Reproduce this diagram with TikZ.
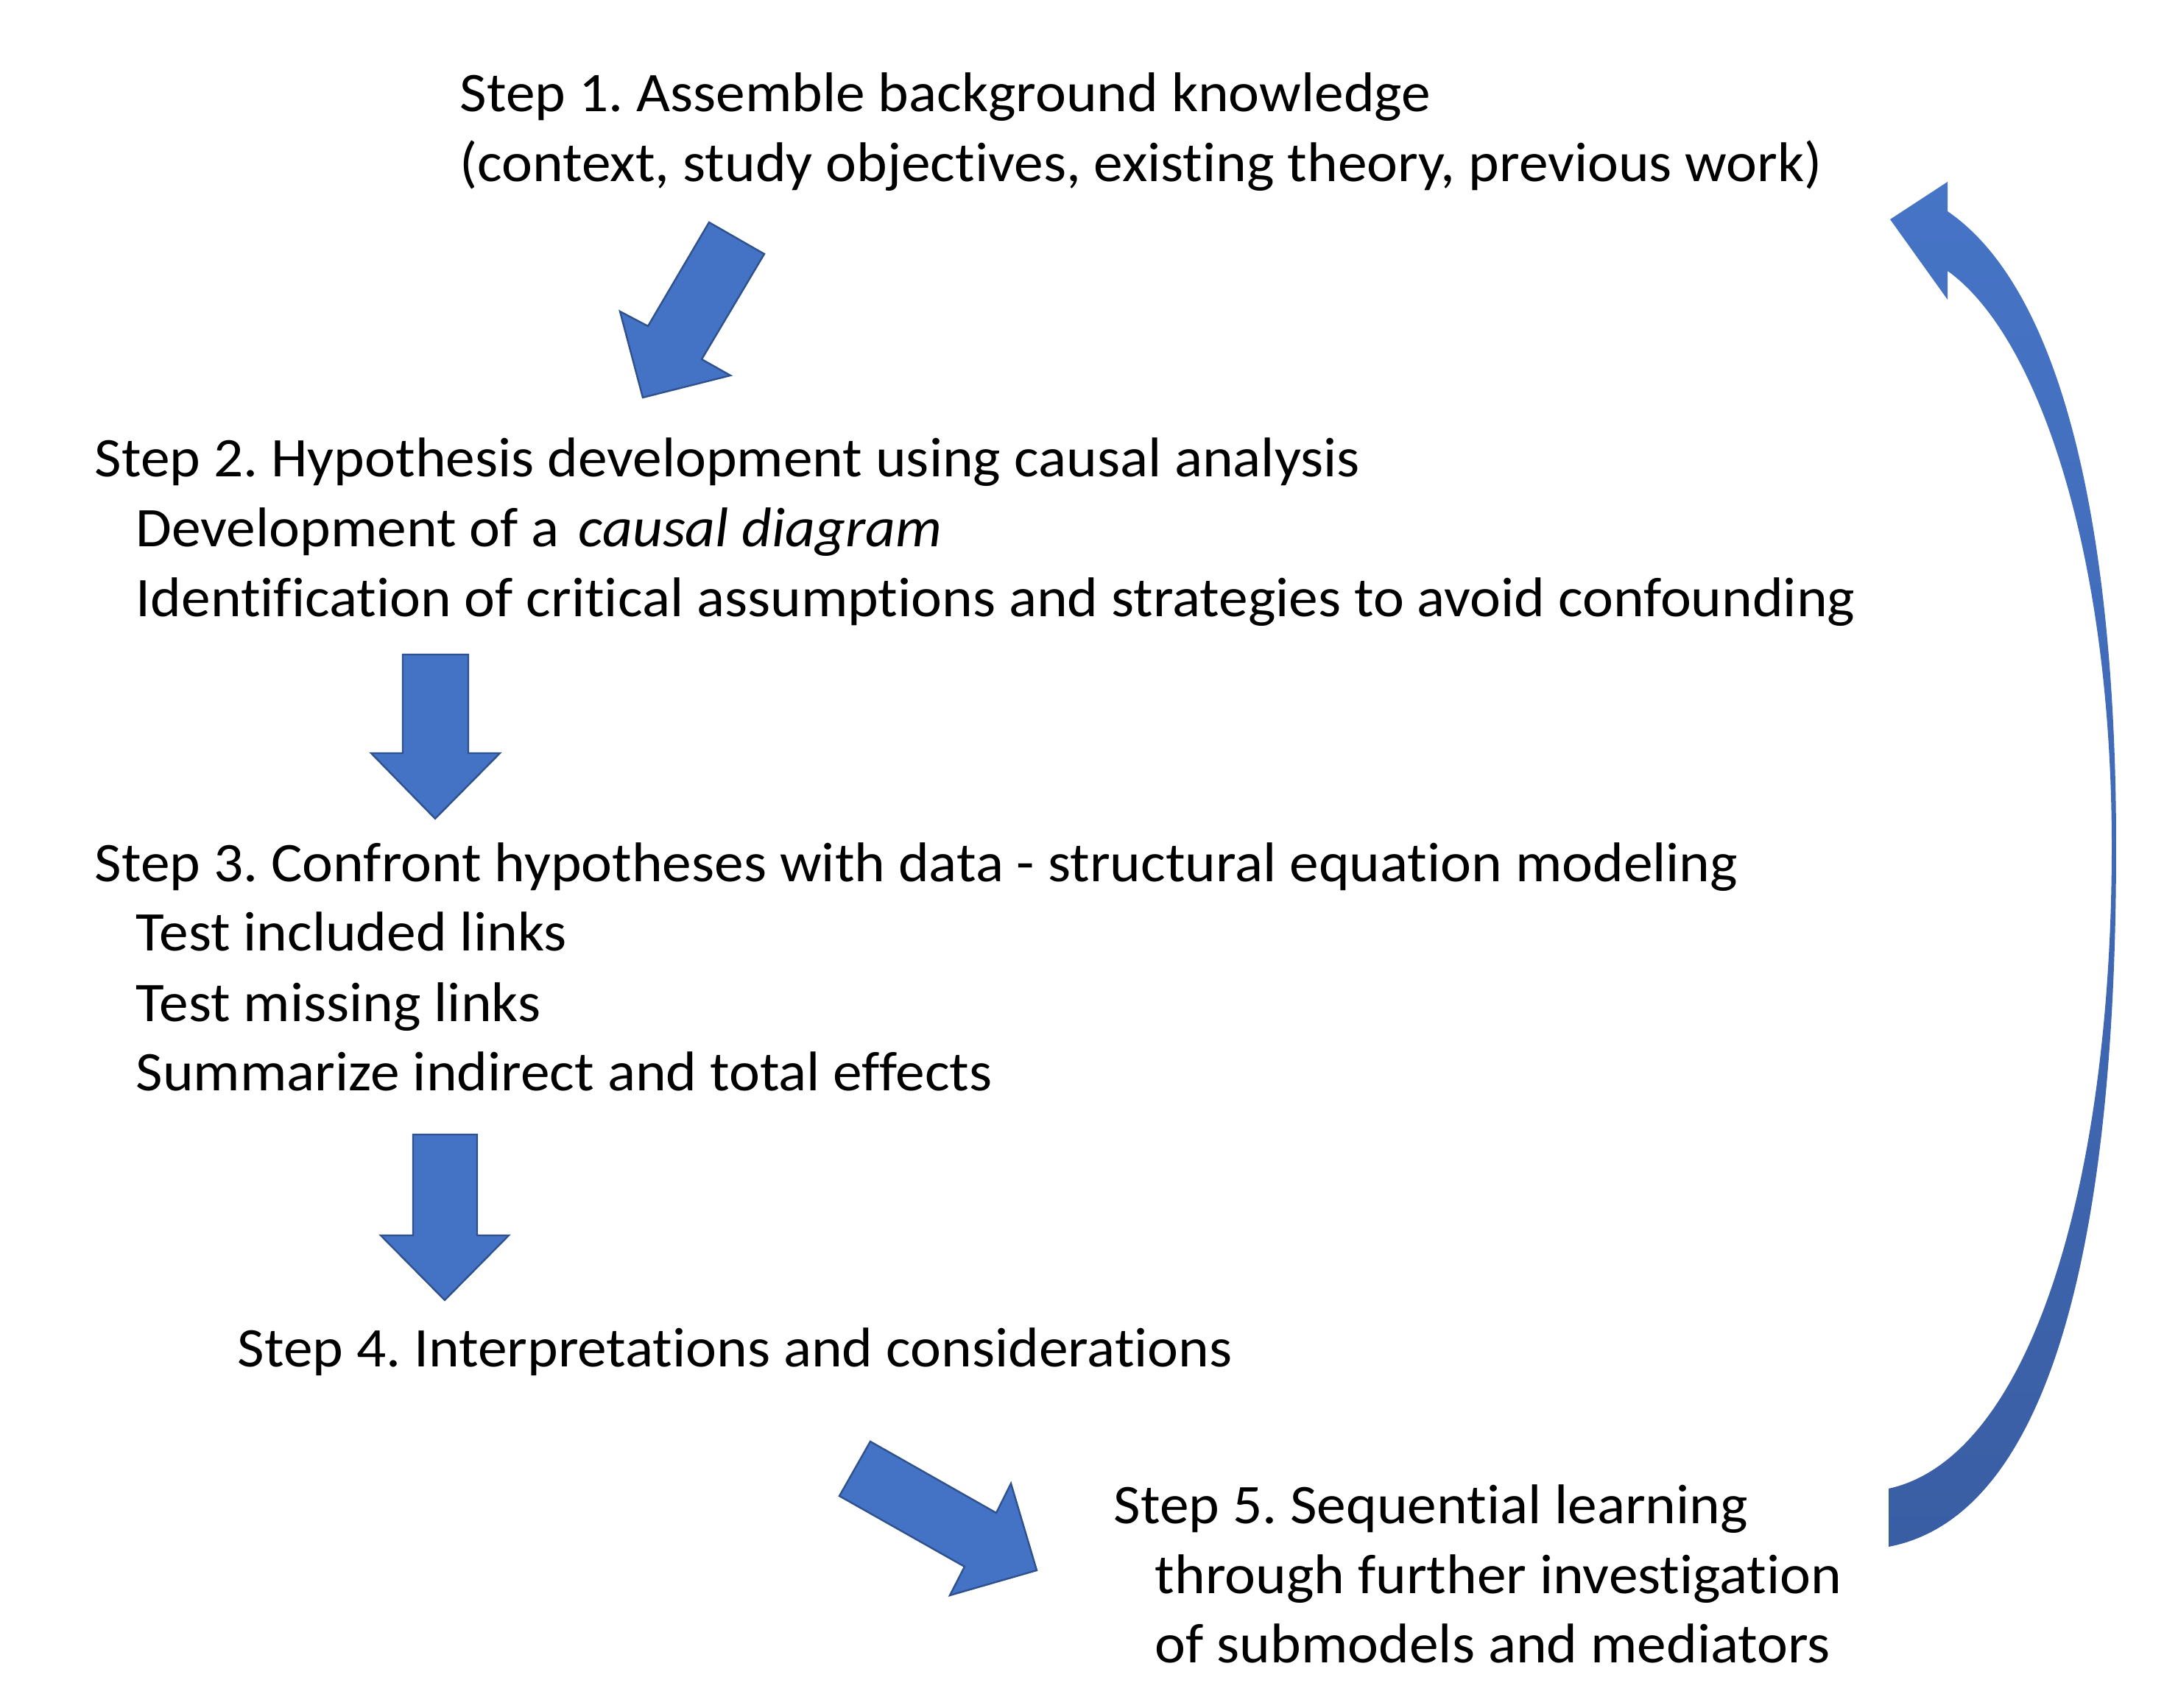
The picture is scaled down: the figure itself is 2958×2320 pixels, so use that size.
\documentclass[tikz,border=0pt]{standalone}
\usepackage{fontspec}
\setmainfont{Carlito}[Ligatures={NoCommon,NoRequired,NoContextual}, FakeStretch=1.045]
\definecolor{arrowblue}{HTML}{4472C4}
\definecolor{arrowedge}{HTML}{2F528F}
\definecolor{curvetop}{HTML}{4674C6}
\definecolor{curvebot}{HTML}{3A5EA4}
\begin{document}
\frenchspacing
\begin{tikzpicture}[x=0.25pt,y=-0.25pt,
  txt/.style={anchor=base west, inner sep=0pt, font=\fontsize{19pt}{23pt}\selectfont, text=black},
  blockarrow/.style={fill=arrowblue, draw=arrowedge, line width=0.6pt, line join=miter}]
\useasboundingbox[fill=white] (0,0) rectangle (2958,2320);

% texts
\node[txt] (s1a) at (624,152) {Step 1. Assemble background knowledge};
\node[txt] (s1b) at (624,247) {(context, study objectives, existing theory, previous work)};
\node[txt] (s2a) at (128,648) {Step 2. Hypothesis development using causal analysis};
\node[txt] (s2b) at (184,743) {Development of a\hspace{6.5pt}\textit{causal diagram}};
\node[txt] (s2c) at (184,838) {Identification of critical assumptions and strategies to avoid confounding};
\node[txt] (s3a) at (128,1198) {Step 3. Confront hypotheses with data - structural equation modeling};
\node[txt] (s3b) at (184,1292) {Test included links};
\node[txt] (s3c) at (184,1387) {Test missing links};
\node[txt] (s3d) at (184,1481) {Summarize indirect and total effects};
\node[txt] (s4) at (322,1856) {Step 4. Interpretations and considerations};
\node[txt] (s5a) at (1512,2069) {Step 5. Sequential learning};
\node[txt] (s5b) at (1568,2164) {through further investigation};
\node[txt] (s5c) at (1568,2258) {of submodels and mediators};

% block arrows
\draw[blockarrow] (963,302) -- (1038,345) -- (953,488) -- (992,510) -- (873,540) -- (842,423) -- (880,443) -- cycle;
\draw[blockarrow] (547,889) -- (636,889) -- (636,1023) -- (679,1023) -- (591,1112) -- (504,1023) -- (547,1023) -- cycle;
\draw[blockarrow] (561,1541) -- (648,1541) -- (648,1678) -- (691,1678) -- (604,1766) -- (517,1678) -- (561,1678) -- cycle;
\draw[blockarrow] (1182,1958) -- (1353,2055) -- (1373,2015) -- (1408,2133) -- (1290,2167) -- (1310,2128) -- (1140,2032) -- cycle;

% curved return arrow
\shade[top color=curvetop, bottom color=curvebot]
  (2645,287) .. controls (2810,400) and (2874,750) .. (2874,1150)
  .. controls (2874,1600) and (2810,2054) .. (2565,2101)
  -- (2565,2022) .. controls (2760,1979) and (2868,1600) .. (2868,1150)
  .. controls (2868,750) and (2767,455) .. (2645,368)
  -- (2645,407) -- (2567,298) -- (2645,247) -- cycle;
\end{tikzpicture}
\end{document}
